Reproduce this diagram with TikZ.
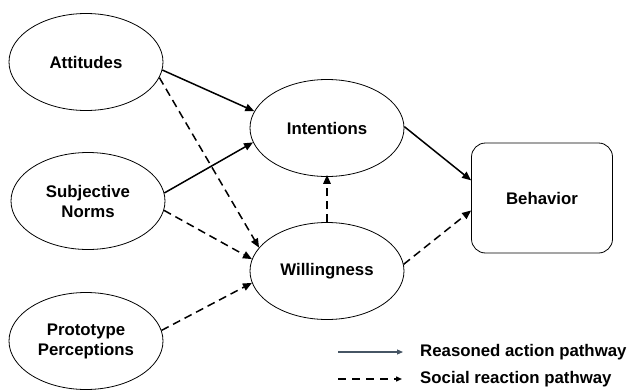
\documentclass[tikz,border=0pt]{standalone}
\usepackage{fontspec}
\setmainfont{Liberation Sans}
\usetikzlibrary{shapes.geometric,arrows.meta,calc}

\begin{document}
\begin{tikzpicture}[x=1pt,y=-1pt,
                    construct/.style={ellipse,draw,line width=0.8pt,minimum width=154pt,minimum height=97pt,inner sep=0pt,align=center,
                                      font=\fontsize{16.8}{20}\selectfont\bfseries},
                    outcome/.style={rectangle,rounded corners=14pt,draw,line width=0.8pt,minimum width=141pt,minimum height=110pt,
                                    font=\fontsize{16.8}{20}\selectfont\bfseries},
                    legendtext/.style={anchor=west,inner sep=0pt,font=\fontsize{16.8}{20}\selectfont\bfseries},
                    reasoned/.style={-{Triangle[length=9pt,width=7.5pt]},line width=1.5pt},
                    social/.style={-{Triangle[length=9pt,width=7.5pt]},line width=1.5pt,dash pattern=on 8pt off 5pt}
]
\useasboundingbox (0,0) rectangle (630,391);

\node [construct] at (86,62) (att) {Attitudes};
\node [construct] at (88,201) (norms) {Subjective\\Norms};
\node [construct] at (86,341) (proto) {Prototype\\Perceptions};
\node [construct] at (327,128) (int) {Intentions};
\node [construct] at (327,271) (will) {Willingness};
\node [outcome] at (542,198) (beh) {Behavior};

\draw[reasoned] (att.-6) -- (int.167);
\draw[reasoned] (norms.6) -- (int.191);
\draw[reasoned] (int.1) -- (beh.166);
\draw[social] (att.-12) -- (will.161);
\draw[social] (norms.-7) -- (will.171);
\draw[social] (proto.8) -- (will.189);
\draw[social] (will.north) -- ($(int.south)+(0,-2)$);
\draw[social] (will.5) -- (beh.190);
%
\node [legendtext] at (420,352) (lrea) {Reasoned action pathway};
\node [legendtext] at (420,379) (lsoc) {Social reaction pathway};
\coordinate (lrea start) at (338,352);
\coordinate (lsoc start) at (338,379);
\draw[-{Triangle[length=6pt,width=5pt]},line width=1.1pt,color={rgb,255:red,70;green,85;blue,100}]
    (lrea start) -- (lrea.west) [shorten >=17pt];
\draw[-{Triangle[length=6pt,width=5pt]},line width=1.4pt,dash pattern=on 8pt off 6pt]
    (lsoc start) -- (lsoc.west) [shorten >=18pt];

\end{tikzpicture}
\end{document}
